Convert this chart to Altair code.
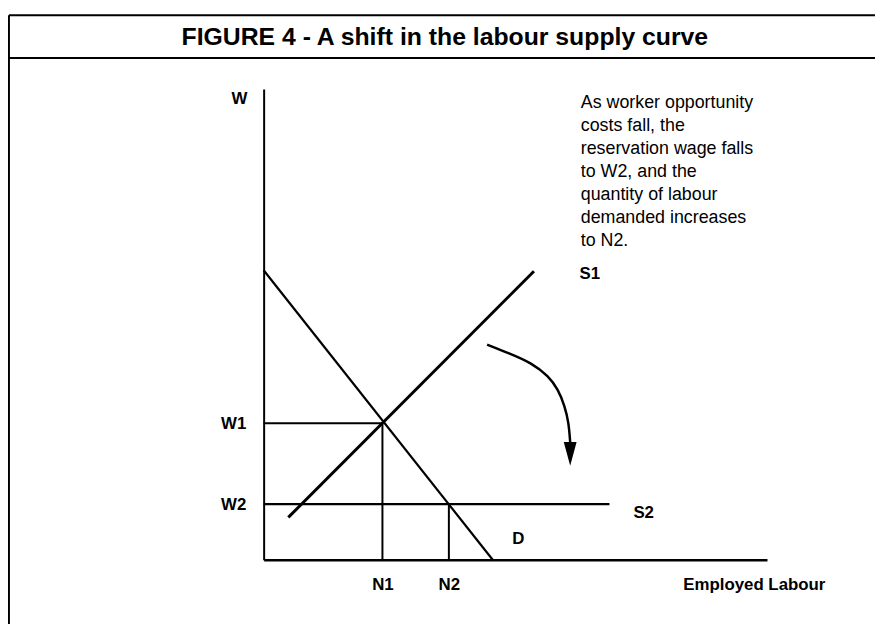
import altair as alt
import pandas as pd

# ---- values (abstract units: labour 0-100, wage 0-100) ----
W_VALUES = [29.0, 11.8]          # W1, W2
W_NAMES = ["W1", "W2"]
N_VALUES = [23.6, 36.8]          # N1, N2
N_NAMES = ["N1", "N2"]

D_X = [0.0, 45.5]
D_Y = [61.5, 0.0]
S1_X = [4.9, 53.7]
S1_Y = [9.0, 61.3]
S2_X = [0.0, 68.7]
S2_Y = [11.8, 11.8]

CURVE_LABELS = ["S1", "S2", "D"]
CURVE_LABEL_X = [64.8, 75.5, 50.6]
CURVE_LABEL_Y = [60.8, 9.9, 4.4]

NOTE_LINES = ["As worker opportunity", "costs fall, the", "reservation wage falls",
              "to W2, and the", "quantity of labour", "demanded increases", "to N2."]
NOTE_X = [63.0]
NOTE_Y = [96.0]

ARROW_X = [44.4, 48.7, 53.3, 56.6, 58.5, 59.8, 60.6, 60.9]
ARROW_Y = [45.7, 43.9, 41.8, 39.0, 36.2, 32.7, 29.2, 25.0]
ARROW_HEAD_X = [60.9]
ARROW_HEAD_Y = [22.5]

TITLE = "FIGURE 4 - A shift in the labour supply curve"
TITLE_X = [36.0]
TITLE_Y = [109.3]

# frame of the figure box (same units, extending past the axes)
FRAME_LEFT = -50.6
FRAME_RIGHT = 124.0
FRAME_TOP = 115.7
FRAME_BAR = 106.6
FRAME_BOTTOM = -17.0

FONT = "Liberation Sans"


def label_expr(values, names):
    expr = "''"
    for v, n in reversed(list(zip(values, names))):
        expr = f"datum.value == {v} ? '{n}' : ({expr})"
    return expr


xs = alt.Scale(domain=[0, 100], nice=False, zero=False)
ys = alt.Scale(domain=[0, 100], nice=False, zero=False)

x_axis = alt.Axis(values=N_VALUES, labelExpr=label_expr(N_VALUES, N_NAMES), ticks=False, grid=False,
                  domainColor="black", domainWidth=2.5, labelFont=FONT, labelFontSize=17,
                  labelFontWeight="bold", labelColor="black", labelPadding=25, labelBaseline="middle",
                  labelFlush=False, labelOverlap=False,
                  title="Employed Labour", titleX=423, titleY=25, titleAlign="left",
                  titleBaseline="middle", titleFont=FONT, titleFontSize=17, titleFontWeight="bold",
                  titleColor="black")
y_axis = alt.Axis(values=W_VALUES, labelExpr=label_expr(W_VALUES, W_NAMES), ticks=False, grid=False,
                  domainColor="black", domainWidth=2, labelFont=FONT, labelFontSize=17,
                  labelFontWeight="bold", labelColor="black", labelPadding=18, labelBaseline="middle",
                  labelFlush=False, labelOverlap=False,
                  title="W", titleAngle=0, titleX=-25, titleY=10, titleAlign="center",
                  titleBaseline="middle", titleFont=FONT, titleFontSize=17, titleFontWeight="bold",
                  titleColor="black")

X = alt.X("x:Q", scale=xs, axis=x_axis)
Y = alt.Y("y:Q", scale=ys, axis=y_axis)

# straight curves
curves = pd.DataFrame({
    "name": ["D", "S2"],
    "x": [D_X[0], S2_X[0]], "y": [D_Y[0], S2_Y[0]],
    "x2": [D_X[1], S2_X[1]], "y2": [D_Y[1], S2_Y[1]],
})
s1 = pd.DataFrame({"x": [S1_X[0]], "y": [S1_Y[0]], "x2": [S1_X[1]], "y2": [S1_Y[1]]})

guides = pd.DataFrame({
    "x": [0.0, N_VALUES[0], N_VALUES[1]],
    "y": [W_VALUES[0], 0.0, 0.0],
    "x2": [N_VALUES[0], N_VALUES[0], N_VALUES[1]],
    "y2": [W_VALUES[0], W_VALUES[0], W_VALUES[1]],
})

frame = pd.DataFrame({
    "x": [FRAME_LEFT, FRAME_LEFT, FRAME_LEFT],
    "y": [FRAME_TOP, FRAME_TOP, FRAME_BAR],
    "x2": [FRAME_LEFT, FRAME_RIGHT, FRAME_RIGHT],
    "y2": [FRAME_BOTTOM, FRAME_TOP, FRAME_BAR],
})

labels = pd.DataFrame({"x": CURVE_LABEL_X, "y": CURVE_LABEL_Y, "t": CURVE_LABELS})
note = pd.DataFrame({"x": NOTE_X, "y": NOTE_Y, "t": ["\n".join(NOTE_LINES)]})
arrow = pd.DataFrame({"x": ARROW_X, "y": ARROW_Y, "i": list(range(len(ARROW_X)))})
head = pd.DataFrame({"x": ARROW_HEAD_X, "y": ARROW_HEAD_Y})
title = pd.DataFrame({"x": TITLE_X, "y": TITLE_Y, "t": [TITLE]})

layer_curves = alt.Chart(curves).mark_rule(color="black", strokeWidth=2.2).encode(
    x=X, y=Y, x2="x2:Q", y2="y2:Q")
layer_s1 = alt.Chart(s1).mark_rule(color="black", strokeWidth=3).encode(
    x=X, y=Y, x2="x2:Q", y2="y2:Q")
layer_guides = alt.Chart(guides).mark_rule(color="black", strokeWidth=2).encode(
    x=X, y=Y, x2="x2:Q", y2="y2:Q")
layer_frame = alt.Chart(frame).mark_rule(color="black", strokeWidth=2).encode(
    x=X, y=Y, x2="x2:Q", y2="y2:Q")
layer_labels = alt.Chart(labels).mark_text(font=FONT, fontSize=17, fontWeight="bold", color="black",
                                           align="center", baseline="middle").encode(x=X, y=Y, text="t:N")
layer_note = alt.Chart(note).mark_text(font=FONT, fontSize=18, color="black", align="left",
                                       baseline="alphabetic", lineBreak="\n", lineHeight=23.3).encode(
    x=X, y=Y, text="t:N")
layer_arrow = alt.Chart(arrow).mark_line(color="black", strokeWidth=2.5, interpolate="basis").encode(
    x=X, y=Y, order=alt.Order("i:Q"))
layer_head = alt.Chart(head).mark_point(shape="M-0.54,-1L0.54,-1L0,1Z", size=576, filled=True,
                                        color="black", opacity=1, strokeWidth=0).encode(x=X, y=Y)
layer_title = alt.Chart(title).mark_text(font=FONT, fontSize=25, fontWeight="bold", color="black",
                                         align="center", baseline="alphabetic").encode(x=X, y=Y, text="t:N")

chart = alt.layer(
    layer_frame, layer_guides, layer_curves, layer_s1, layer_arrow, layer_head,
    layer_labels, layer_note, layer_title
).properties(
    width=508, height=475,
    autosize=alt.AutoSizeParams(type="none"),
    padding={"left": 258, "top": 79, "right": 109, "bottom": 62},
    background="white",
).configure_view(stroke=None)

chart.save("out.html", embed_options={"renderer": "svg", "actions": False})
